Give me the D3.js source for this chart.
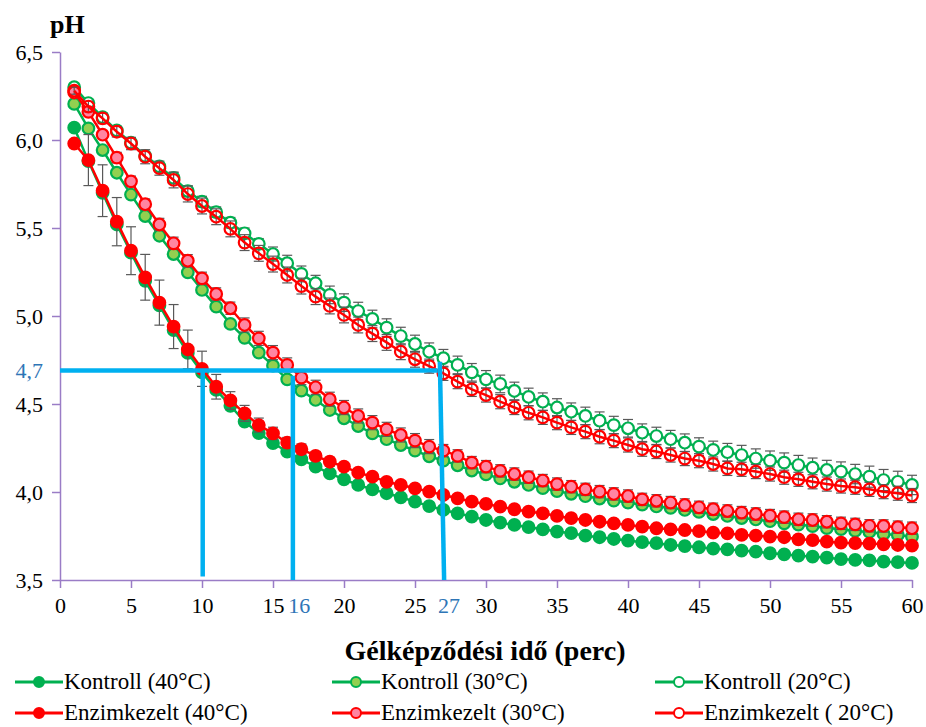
<!DOCTYPE html>
<html>
<head>
<meta charset="utf-8">
<script src="https://cdn.jsdelivr.net/npm/d3@7"></script>
<style>
  body { margin: 0; background: #fff; }
  svg { display: block; font-family: "Liberation Serif", "Times New Roman", serif; }
</style>
</head>
<body>
<div class="ph_chart"></div>
<script>
// time (perc) 1..60
var minutes = [1,2,3,4,5,6,7,8,9,10,11,12,13,14,15,16,17,18,19,20,21,22,23,24,25,26,27,28,29,30,
  31,32,33,34,35,36,37,38,39,40,41,42,43,44,45,46,47,48,49,50,51,52,53,54,55,56,57,58,59,60];

var kontroll40 = [6.07,5.88,5.70,5.52,5.36,5.20,5.06,4.92,4.79,4.68,4.58,4.49,4.40,4.335,4.278,4.229,4.186,4.144,4.106,4.072,
  4.04,4.015,3.993,3.97,3.945,3.92,3.898,3.879,3.86,3.841,3.826,3.813,3.80,3.788,3.775,3.766,3.752,3.743,3.733,3.724,
  3.715,3.709,3.699,3.693,3.686,3.678,3.674,3.667,3.661,3.652,3.646,3.638,3.633,3.627,3.619,3.614,3.612,3.604,3.601,3.597];

var kontroll30 = [6.205,6.066,5.943,5.814,5.69,5.568,5.456,5.352,5.248,5.148,5.053,4.955,4.876,4.792,4.718,4.64,4.576,4.523,4.466,4.419,
  4.375,4.333,4.30,4.267,4.235,4.203,4.178,4.152,4.122,4.10,4.077,4.058,4.04,4.022,4.005,3.99,3.976,3.963,3.951,3.94,
  3.928,3.918,3.91,3.898,3.887,3.875,3.864,3.852,3.844,3.834,3.822,3.815,3.806,3.795,3.789,3.779,3.773,3.762,3.756,3.746];

var kontroll20 = [6.30,6.21,6.13,6.055,5.985,5.91,5.85,5.785,5.71,5.65,5.59,5.53,5.47,5.41,5.352,5.30,5.239,5.186,5.12,5.076,
  5.028,4.983,4.934,4.886,4.841,4.797,4.76,4.722,4.68,4.64,4.614,4.574,4.54,4.513,4.48,4.456,4.432,4.405,4.38,4.362,
  4.337,4.318,4.30,4.28,4.258,4.239,4.226,4.21,4.19,4.178,4.167,4.153,4.138,4.125,4.116,4.102,4.087,4.068,4.058,4.04];

var enzim40 = [5.98,5.886,5.712,5.536,5.371,5.22,5.076,4.94,4.81,4.70,4.598,4.52,4.447,4.38,4.333,4.28,4.243,4.205,4.172,4.144,
  4.11,4.087,4.058,4.04,4.021,4.002,3.983,3.964,3.945,3.932,3.917,3.902,3.888,3.879,3.864,3.851,3.841,3.831,3.822,3.813,
  3.803,3.794,3.788,3.784,3.778,3.769,3.765,3.756,3.752,3.746,3.743,3.731,3.727,3.718,3.712,3.709,3.707,3.703,3.699,3.695];

var enzim30 = [6.27,6.16,6.03,5.90,5.765,5.635,5.52,5.413,5.314,5.214,5.125,5.044,4.949,4.873,4.792,4.722,4.65,4.595,4.527,4.48,
  4.432,4.394,4.356,4.324,4.292,4.258,4.235,4.205,4.167,4.144,4.12,4.102,4.084,4.065,4.045,4.03,4.015,4.002,3.989,3.977,
  3.958,3.95,3.94,3.926,3.913,3.902,3.892,3.883,3.875,3.866,3.857,3.845,3.841,3.831,3.822,3.816,3.808,3.807,3.80,3.794];

var enzim20 = [6.28,6.19,6.123,6.047,5.98,5.905,5.84,5.773,5.693,5.625,5.564,5.495,5.417,5.356,5.295,5.233,5.17,5.11,5.057,5.006,
  4.949,4.90,4.85,4.797,4.754,4.715,4.674,4.627,4.583,4.551,4.513,4.48,4.45,4.424,4.394,4.367,4.343,4.314,4.292,4.267,
  4.243,4.23,4.21,4.19,4.178,4.159,4.134,4.129,4.116,4.102,4.084,4.072,4.058,4.045,4.034,4.027,4.015,4.002,3.993,3.98];

// standard deviations (error bars)
var errEnzim40 = [0.02,0.145,0.147,0.137,0.136,0.13,0.128,0.125,0.11,0.10,0.07,0.05,0.045,0.04,0.035,0.03,0.03,0.025,0.025,0.02,
  0.02,0.02,0.02,0.02,0.02,0.02,0.02,0.02,0.02,0.02,0.02,0.02,0.02,0.02,0.02,0.02,0.02,0.02,0.02,0.02,
  0.02,0.02,0.02,0.02,0.02,0.02,0.02,0.02,0.02,0.02,0.02,0.02,0.02,0.02,0.02,0.02,0.02,0.02,0.02,0.02];
var errKontroll20 = [0.02,0.02,0.02,0.02,0.02,0.02,0.02,0.03,0.03,0.03,0.03,0.03,0.03,0.03,0.04,0.045,0.045,0.045,0.05,0.05,
  0.05,0.05,0.05,0.05,0.05,0.05,0.05,0.05,0.05,0.05,0.05,0.05,0.05,0.05,0.05,0.05,0.05,0.05,0.05,0.05,
  0.05,0.05,0.05,0.05,0.05,0.05,0.05,0.055,0.055,0.055,0.055,0.055,0.055,0.055,0.055,0.055,0.06,0.06,0.06,0.055];
var errEnzim20 = [0.02,0.03,0.03,0.03,0.035,0.04,0.04,0.045,0.045,0.045,0.045,0.045,0.045,0.045,0.045,0.045,0.045,0.045,0.045,0.045,
  0.045,0.045,0.045,0.045,0.045,0.04,0.04,0.04,0.04,0.04,0.04,0.04,0.04,0.04,0.04,0.04,0.04,0.04,0.04,0.04,
  0.04,0.04,0.04,0.04,0.04,0.04,0.04,0.04,0.04,0.04,0.04,0.04,0.04,0.04,0.04,0.04,0.04,0.04,0.04,0.04];
var errEnzim30 = [0.02,0.02,0.02,0.03,0.03,0.03,0.035,0.035,0.035,0.035,0.035,0.035,0.04,0.04,0.04,0.04,0.04,0.04,0.04,0.04,
  0.04,0.04,0.04,0.04,0.04,0.04,0.035,0.035,0.035,0.035,0.035,0.035,0.035,0.035,0.035,0.035,0.035,0.035,0.035,0.035,
  0.035,0.035,0.035,0.035,0.035,0.035,0.035,0.035,0.035,0.035,0.035,0.035,0.035,0.035,0.035,0.035,0.035,0.035,0.035,0.035];

var seriesNames = ["Kontroll (40°C)", "Kontroll (30°C)", "Kontroll (20°C)",
                   "Enzimkezelt (40°C)", "Enzimkezelt (30°C)", "Enzimkezelt ( 20°C)"];

var xTicks = [0,5,10,15,20,25,30,35,40,45,50,55,60];
var yTicks = [3.5,4.0,4.5,5.0,5.5,6.0,6.5];

// blue guide lines: reading times at pH 4,7
var guideLevel = 4.69;
var guideTimes = [16, 27];
var guideLabelAt = [16.85, 27.4];
var guideLines = [
  {x1: 0, y1: 4.69, x2: 26.6, y2: 4.69},
  {x1: 10.05, y1: 4.69, x2: 10.05, y2: 3.52},
  {x1: 16.4, y1: 4.66, x2: 16.4, y2: 3.5},
  {x1: 26.75, y1: 4.74, x2: 27.05, y2: 3.5}
];

var green = "#00b050";
var red = "#ff0000";

function init() {

  const width = 926;
  const height = 727;

  const svg = d3.select("div.ph_chart")
    .append("svg")
    .attr("width", width)
    .attr("height", height);

  const xScale = d3.scaleLinear().domain([0, 60]).range([60, 912]);
  const yScale = d3.scaleLinear().domain([3.5, 6.5]).range([580, 52]);

  const comma = d3.formatLocale({decimal: ",", thousands: " ", grouping: [3], currency: ["", ""]});

  // axes
  const xAxis = svg.append("g")
    .attr("transform", "translate(0," + yScale(3.5) + ")")
    .call(d3.axisBottom(xScale).tickValues(xTicks).tickSize(8).tickSizeOuter(0).tickPadding(9));

  const yAxis = svg.append("g")
    .attr("transform", "translate(" + xScale(0) + ",0)")
    .call(d3.axisLeft(yScale).tickValues(yTicks).tickSize(8).tickSizeOuter(0).tickPadding(9)
      .tickFormat(comma.format(".1f")));

  [xAxis, yAxis].forEach(function(a) {
    a.attr("font-family", null);
    a.select(".domain").attr("stroke", "#9a7cc6").attr("stroke-width", 1.5);
    a.selectAll(".tick line").attr("stroke", "#9a7cc6").attr("stroke-width", 1.5);
    a.selectAll(".tick text")
      .attr("fill", "#000")
      .style("font-family", "'Liberation Serif', serif")
      .style("font-size", "22px");
  });

  // series definitions
  const series = [
    {name: seriesNames[0], values: kontroll40, err: null, stroke: green, fill: green},
    {name: seriesNames[1], values: kontroll30, err: null, stroke: green, fill: "#92d050"},
    {name: seriesNames[2], values: kontroll20, err: errKontroll20, stroke: green, fill: "#ffffff"},
    {name: seriesNames[3], values: enzim40, err: errEnzim40, stroke: red, fill: red},
    {name: seriesNames[4], values: enzim30, err: errEnzim30, stroke: red, fill: "#ff85a2"},
    {name: seriesNames[5], values: enzim20, err: errEnzim20, stroke: red, fill: "none"}
  ];

  const line = d3.line()
    .x(function(d) { return xScale(d.t); })
    .y(function(d) { return yScale(d.v); });

  series.forEach(function(s) {
    var pts = minutes.map(function(t, i) {
      return {t: t, v: s.values[i], e: s.err ? s.err[i] : 0};
    });

    var g = svg.append("g");

    // error bars
    if (s.err) {
      var eb = g.selectAll(".err").data(pts).enter().append("g")
        .attr("stroke", "#595959").attr("stroke-width", 1.2);
      eb.append("line")
        .attr("x1", (d) => xScale(d.t)).attr("x2", (d) => xScale(d.t))
        .attr("y1", (d) => yScale(d.v - d.e)).attr("y2", (d) => yScale(d.v + d.e));
      eb.append("line")
        .attr("x1", (d) => xScale(d.t) - 5).attr("x2", (d) => xScale(d.t) + 5)
        .attr("y1", (d) => yScale(d.v + d.e)).attr("y2", (d) => yScale(d.v + d.e));
      eb.append("line")
        .attr("x1", (d) => xScale(d.t) - 5).attr("x2", (d) => xScale(d.t) + 5)
        .attr("y1", (d) => yScale(d.v - d.e)).attr("y2", (d) => yScale(d.v - d.e));
    }

    g.append("path")
      .datum(pts)
      .attr("d", line)
      .attr("fill", "none")
      .attr("stroke", s.stroke)
      .attr("stroke-width", 2.5);

    g.selectAll("circle")
      .data(pts)
      .enter()
      .append("circle")
      .attr("cx", (d) => xScale(d.t))
      .attr("cy", (d) => yScale(d.v))
      .attr("r", 5.8)
      .attr("fill", s.fill)
      .attr("stroke", s.stroke)
      .attr("stroke-width", 2.2);
  });

  // blue guide lines
  svg.append("g")
    .selectAll("line")
    .data(guideLines)
    .enter()
    .append("line")
    .attr("x1", (d) => xScale(d.x1))
    .attr("y1", (d) => yScale(d.y1))
    .attr("x2", (d) => xScale(d.x2))
    .attr("y2", (d) => yScale(d.y2))
    .attr("stroke", "#00b0f0")
    .attr("stroke-width", 4.5);

  // blue labels
  svg.append("text")
    .attr("x", xScale(0) - 17)
    .attr("y", yScale(guideLevel) + 7)
    .attr("text-anchor", "end")
    .attr("fill", "#2e75b6")
    .style("font-size", "22px")
    .text(comma.format(".1f")(4.7));

  svg.selectAll(".guideLabel")
    .data(guideTimes)
    .enter()
    .append("text")
    .attr("x", (d, i) => xScale(guideLabelAt[i]))
    .attr("y", yScale(3.5) + 33)
    .attr("text-anchor", "middle")
    .attr("fill", "#2e75b6")
    .style("font-size", "22px")
    .text((d) => d);

  // axis titles
  svg.append("text")
    .attr("x", 50)
    .attr("y", 33)
    .style("font-size", "26px")
    .style("font-weight", "bold")
    .text("pH");

  svg.append("text")
    .attr("x", 485)
    .attr("y", 660)
    .attr("text-anchor", "middle")
    .style("font-size", "28px")
    .style("font-weight", "bold")
    .text("Gélképződési idő (perc)");

  // legend
  var legendCols = [15, 332, 655];
  var legendRows = [682, 713];

  series.forEach(function(s, i) {
    var lx = legendCols[i % 3];
    var ly = legendRows[Math.floor(i / 3)];
    var lg = svg.append("g").attr("transform", "translate(" + lx + "," + ly + ")");
    lg.append("line")
      .attr("x1", 0).attr("x2", 48)
      .attr("y1", 0).attr("y2", 0)
      .attr("stroke", s.stroke).attr("stroke-width", 3);
    lg.append("circle")
      .attr("cx", 24).attr("cy", 0).attr("r", 5)
      .attr("fill", s.fill === "none" ? "#fff" : s.fill)
      .attr("stroke", s.stroke).attr("stroke-width", 2);
    lg.append("text")
      .attr("x", 49).attr("y", 7)
      .style("font-size", "23px")
      .text(s.name);
  });
}

window.onload = init;
</script>
</body>
</html>
